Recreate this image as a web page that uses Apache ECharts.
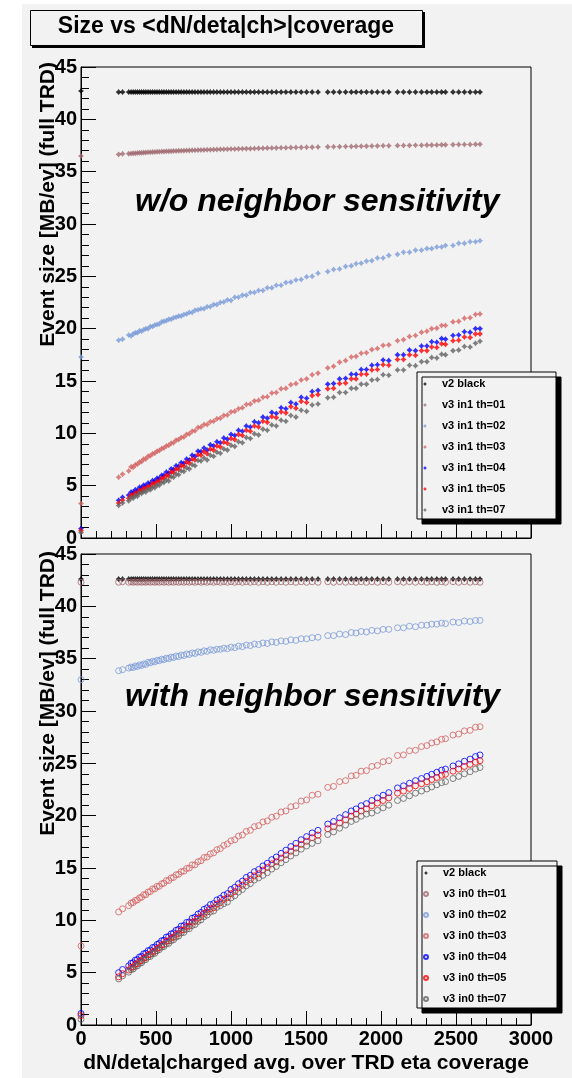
<!DOCTYPE html>
<html><head><meta charset="utf-8">
<script src="https://cdn.jsdelivr.net/npm/echarts@6/dist/echarts.min.js"></script>
<style>html,body{margin:0;padding:0;background:#fff}#c{width:572px;height:1078px}</style>
</head><body><div id="c"></div>
<script>
// shared x values (dN/deta) of the events
const xVals = [0,251,277,318,334,348,362,376,390,404,
418,432,447,462,477,492,507,522,538,553,
569,585,601,617,634,651,668,686,704,722,
741,760,780,800,820,841,862,884,906,929,
952,976,1000,1025,1050,1076,1102,1129,1156,1184,
1213,1242,1272,1302,1334,1366,1399,1433,1468,1504,
1541,1580,1645,1684,1724,1764,1802,1834,1868,1903,
1939,1976,2014,2052,2110,2150,2190,2230,2270,2306,
2338,2372,2404,2430,2480,2518,2556,2594,2630,2660];

// ---- top panel: w/o neighbor sensitivity ----
const topV2 = [42.7,42.6,42.6,42.6,42.6,42.6,42.6,42.6,42.6,42.6,
42.6,42.6,42.6,42.6,42.6,42.6,42.6,42.6,42.6,42.6,
42.6,42.6,42.6,42.6,42.6,42.6,42.6,42.6,42.6,42.6,
42.6,42.6,42.6,42.6,42.6,42.6,42.6,42.6,42.6,42.6,
42.6,42.6,42.6,42.6,42.6,42.6,42.6,42.6,42.6,42.6,
42.6,42.6,42.6,42.6,42.6,42.6,42.6,42.6,42.6,42.6,
42.6,42.6,42.6,42.6,42.6,42.6,42.6,42.6,42.6,42.6,
42.6,42.6,42.6,42.6,42.6,42.6,42.6,42.6,42.6,42.6,
42.6,42.6,42.6,42.6,42.6,42.6,42.6,42.6,42.6,42.6];
const topTh01 = [36.5,36.65,36.7,36.72,36.74,36.75,36.76,36.78,36.8,36.8,
36.82,36.83,36.85,36.86,36.87,36.88,36.9,36.9,36.92,36.93,
36.94,36.95,36.96,36.97,36.98,36.99,37.0,37.01,37.02,37.03,
37.04,37.05,37.06,37.07,37.08,37.09,37.1,37.11,37.12,37.13,
37.14,37.15,37.16,37.17,37.18,37.19,37.2,37.2,37.22,37.23,
37.24,37.25,37.26,37.27,37.28,37.29,37.3,37.31,37.32,37.33,
37.34,37.35,37.37,37.38,37.39,37.4,37.41,37.42,37.43,37.44,
37.45,37.46,37.47,37.48,37.49,37.5,37.51,37.52,37.53,37.54,
37.54,37.55,37.56,37.56,37.58,37.59,37.6,37.6,37.61,37.62];
const topTh02 = [17.3,18.9,19.0,19.4,19.3,19.5,19.6,19.6,19.8,19.75,
19.9,20.0,20.0,20.2,20.2,20.35,20.4,20.45,20.65,20.7,
20.75,20.9,20.9,21.05,21.1,21.2,21.2,21.35,21.4,21.55,
21.55,21.75,21.8,21.9,21.9,22.1,22.1,22.3,22.3,22.5,
22.55,22.75,22.7,23.0,23.0,23.2,23.2,23.45,23.45,23.65,
23.65,23.9,23.9,24.15,24.15,24.4,24.45,24.65,24.7,24.95,
25.0,25.3,25.45,25.65,25.7,25.95,26.0,26.2,26.25,26.45,
26.5,26.75,26.75,27.0,27.1,27.3,27.3,27.5,27.5,27.65,
27.65,27.8,27.8,27.95,27.95,28.15,28.15,28.3,28.3,28.4];
const topTh03 = [3.3,5.8,6.1,6.4,6.8,6.75,7.0,7.05,7.25,7.3,
7.55,7.55,7.8,7.85,8.05,8.1,8.3,8.35,8.55,8.6,
8.8,8.85,9.05,9.1,9.35,9.4,9.6,9.65,9.9,9.95,
10.2,10.25,10.55,10.6,10.85,10.85,11.1,11.15,11.4,11.45,
11.7,11.75,12.05,12.1,12.35,12.45,12.75,12.8,13.1,13.15,
13.45,13.5,13.85,13.9,14.25,14.3,14.65,14.75,15.1,15.2,
15.6,15.75,16.25,16.4,16.8,16.95,17.3,17.35,17.65,17.7,
18.0,18.1,18.4,18.45,18.85,18.95,19.25,19.35,19.65,19.75,
20.0,20.05,20.3,20.3,20.65,20.7,21.0,21.05,21.35,21.4];
const topTh04 = [0.9,3.6,3.9,4.1,4.4,4.35,4.6,4.55,4.85,4.8,
5.05,5.0,5.25,5.2,5.5,5.45,5.7,5.7,6.0,6.0,
6.3,6.2,6.6,6.55,6.9,6.85,7.2,7.15,7.55,7.45,
7.9,7.8,8.3,8.25,8.6,8.4,8.9,8.8,9.2,9.1,
9.55,9.45,9.9,9.8,10.3,10.2,10.7,10.6,11.1,11.0,
11.55,11.45,12.0,11.9,12.45,12.35,12.95,12.8,13.45,13.35,
14.0,14.1,14.7,14.75,15.2,15.25,15.65,15.65,16.1,16.1,
16.5,16.55,17.0,16.95,17.5,17.5,17.95,17.9,18.35,18.35,
18.75,18.7,19.05,19.0,19.35,19.4,19.7,19.65,20.0,20.0];
const topTh05 = [0.7,3.35,3.6,3.8,4.1,4.05,4.3,4.25,4.55,4.5,
4.75,4.7,4.95,4.9,5.2,5.15,5.4,5.4,5.7,5.7,
6.0,5.9,6.3,6.25,6.6,6.55,6.9,6.85,7.25,7.15,
7.55,7.45,7.95,7.9,8.25,8.05,8.5,8.4,8.8,8.7,
9.15,9.05,9.5,9.4,9.9,9.8,10.3,10.2,10.7,10.6,
11.15,11.05,11.6,11.5,12.05,11.95,12.55,12.4,13.05,12.95,
13.6,13.7,14.25,14.3,14.75,14.8,15.2,15.2,15.65,15.65,
16.05,16.1,16.55,16.5,17.05,17.05,17.5,17.45,17.9,17.9,
18.25,18.2,18.55,18.5,18.85,18.9,19.2,19.15,19.5,19.5];
const topTh07 = [0.5,3.1,3.35,3.55,3.85,3.8,4.05,4.0,4.3,4.25,
4.45,4.4,4.65,4.6,4.85,4.8,5.05,5.05,5.3,5.3,
5.55,5.45,5.85,5.8,6.1,6.05,6.4,6.35,6.7,6.6,
7.0,6.9,7.4,7.35,7.65,7.45,7.9,7.8,8.2,8.1,
8.5,8.4,8.85,8.75,9.2,9.1,9.6,9.5,9.95,9.85,
10.4,10.3,10.8,10.7,11.25,11.15,11.7,11.55,12.2,12.1,
12.7,12.8,13.4,13.45,13.9,13.9,14.3,14.3,14.7,14.7,
15.1,15.15,15.6,15.55,16.05,16.05,16.5,16.45,16.85,16.85,
17.25,17.2,17.55,17.5,17.9,17.95,18.3,18.25,18.6,18.8];

// ---- bottom panel: with neighbor sensitivity ----
const botV2 = [42.6,42.6,42.6,42.6,42.6,42.6,42.6,42.6,42.6,42.6,
42.6,42.6,42.6,42.6,42.6,42.6,42.6,42.6,42.6,42.6,
42.6,42.6,42.6,42.6,42.6,42.6,42.6,42.6,42.6,42.6,
42.6,42.6,42.6,42.6,42.6,42.6,42.6,42.6,42.6,42.6,
42.6,42.6,42.6,42.6,42.6,42.6,42.6,42.6,42.6,42.6,
42.6,42.6,42.6,42.6,42.6,42.6,42.6,42.6,42.6,42.6,
42.6,42.6,42.6,42.6,42.6,42.6,42.6,42.6,42.6,42.6,
42.6,42.6,42.6,42.6,42.6,42.6,42.6,42.6,42.6,42.6,
42.6,42.6,42.6,42.6,42.6,42.6,42.6,42.6,42.6,42.6];
const botTh01 = [42.3,42.3,42.35,42.3,42.35,42.3,42.35,42.3,42.35,42.3,
42.35,42.3,42.35,42.3,42.35,42.3,42.35,42.3,42.35,42.3,
42.35,42.3,42.35,42.3,42.35,42.3,42.35,42.3,42.35,42.3,
42.35,42.3,42.35,42.3,42.35,42.3,42.35,42.3,42.35,42.3,
42.35,42.3,42.35,42.3,42.35,42.3,42.35,42.3,42.35,42.3,
42.35,42.3,42.35,42.3,42.35,42.3,42.35,42.3,42.35,42.3,
42.35,42.3,42.35,42.3,42.35,42.3,42.35,42.3,42.35,42.3,
42.35,42.3,42.35,42.3,42.35,42.3,42.35,42.3,42.35,42.3,
42.35,42.3,42.35,42.3,42.35,42.3,42.35,42.3,42.35,42.3];
const botTh02 = [33.0,33.85,33.95,34.1,34.2,34.15,34.3,34.25,34.4,34.35,
34.5,34.45,34.65,34.6,34.75,34.7,34.85,34.8,34.95,34.9,
35.05,35.0,35.15,35.1,35.25,35.2,35.35,35.3,35.45,35.4,
35.55,35.5,35.65,35.6,35.75,35.7,35.85,35.8,35.9,35.9,
36.0,35.95,36.1,36.05,36.2,36.15,36.3,36.25,36.4,36.35,
36.5,36.45,36.6,36.55,36.7,36.65,36.8,36.75,36.9,36.9,
37.0,37.05,37.2,37.2,37.35,37.3,37.5,37.45,37.6,37.55,
37.7,37.65,37.8,37.8,37.95,37.95,38.1,38.05,38.2,38.2,
38.3,38.3,38.4,38.35,38.5,38.45,38.6,38.55,38.65,38.65];
const botTh03 = [7.55,10.8,11.1,11.4,11.65,11.7,11.9,11.95,12.15,12.2,
12.45,12.45,12.7,12.75,13.0,13.0,13.25,13.25,13.5,13.55,
13.8,13.8,14.05,14.1,14.35,14.4,14.65,14.7,14.95,15.0,
15.3,15.3,15.6,15.7,16.0,16.05,16.35,16.45,16.75,16.85,
17.15,17.3,17.6,17.7,18.05,18.15,18.5,18.6,18.95,19.05,
19.4,19.5,19.85,19.95,20.35,20.45,20.85,20.95,21.4,21.5,
21.95,22.05,22.7,22.8,23.25,23.35,23.8,23.85,24.25,24.3,
24.7,24.8,25.15,25.25,25.75,25.8,26.2,26.25,26.6,26.7,
26.95,27.05,27.3,27.35,27.7,27.8,28.1,28.15,28.45,28.5];
const botTh04 = [1.1,5.0,5.3,5.65,5.9,5.95,6.2,6.25,6.5,6.55,
6.8,6.85,7.1,7.15,7.4,7.45,7.7,7.8,8.05,8.1,
8.4,8.45,8.7,8.8,9.05,9.15,9.45,9.5,9.8,9.85,
10.2,10.3,10.6,10.75,11.05,11.2,11.5,11.6,11.95,12.1,
12.4,12.55,12.95,13.15,13.5,13.75,14.1,14.3,14.65,14.85,
15.2,15.45,15.8,16.05,16.4,16.7,17.05,17.35,17.7,18.0,
18.35,18.6,19.2,19.45,19.8,20.1,20.45,20.65,20.95,21.15,
21.45,21.7,21.95,22.2,22.65,22.85,23.1,23.35,23.55,23.75,
23.95,24.15,24.35,24.45,24.75,24.95,25.2,25.4,25.65,25.8];
const botTh05 = [0.9,4.6,4.9,5.25,5.5,5.55,5.8,5.85,6.1,6.15,
6.4,6.45,6.7,6.75,7.0,7.05,7.3,7.4,7.65,7.7,
8.0,8.05,8.3,8.4,8.65,8.75,9.05,9.1,9.4,9.45,
9.8,9.9,10.2,10.35,10.65,10.8,11.1,11.2,11.55,11.7,
12.0,12.15,12.55,12.75,13.1,13.35,13.7,13.9,14.25,14.45,
14.8,15.05,15.4,15.6,15.95,16.25,16.6,16.9,17.25,17.55,
17.9,18.15,18.75,18.95,19.3,19.6,19.95,20.15,20.45,20.65,
20.95,21.2,21.45,21.7,22.15,22.35,22.6,22.85,23.05,23.25,
23.45,23.65,23.85,23.95,24.25,24.45,24.7,24.9,25.1,25.25];
const botTh07 = [0.55,4.4,4.7,5.05,5.3,5.35,5.6,5.65,5.9,5.95,
6.2,6.25,6.5,6.55,6.8,6.85,7.1,7.2,7.45,7.5,
7.75,7.8,8.05,8.15,8.4,8.5,8.8,8.85,9.15,9.2,
9.5,9.6,9.9,10.05,10.35,10.5,10.8,10.9,11.25,11.4,
11.6,11.75,12.15,12.35,12.7,12.95,13.3,13.5,13.85,14.05,
14.3,14.55,14.9,15.15,15.5,15.8,16.15,16.45,16.8,17.1,
17.35,17.6,18.2,18.45,18.8,19.1,19.45,19.65,19.95,20.15,
20.25,20.5,20.75,21.0,21.45,21.65,21.9,22.15,22.35,22.55,
22.75,22.95,23.15,23.25,23.55,23.75,24.0,24.2,24.45,24.6];

const namesTop = ['v2 black','v3 in1 th=01','v3 in1 th=02','v3 in1 th=03','v3 in1 th=04','v3 in1 th=05','v3 in1 th=07'];
const namesBot = ['v2 black','v3 in0 th=01','v3 in0 th=02','v3 in0 th=03','v3 in0 th=04','v3 in0 th=05','v3 in0 th=07'];
const colors = ['#000000','#a06a72','#7b9bd8','#d46262','#0000ff','#ff0000','#626262'];
const topData = [topV2, topTh01, topTh02, topTh03, topTh04, topTh05, topTh07];
const botData = [botV2, botTh01, botTh02, botTh03, botTh04, botTh05, botTh07];
const yTicks = {min: 0, max: 45, interval: 5};
const xTicks = {min: 0, max: 3000, interval: 500};

const FONT = '"Liberation Sans", Arial, sans-serif';
const STAR = 'path://M0,-3L1.3,-1.3L3,0L1.3,1.3L0,3L-1.3,1.3L-3,0L-1.3,-1.3Z';

function pts(ys) { return xVals.map((x, i) => [x, ys[i]]); }

const series = [];
topData.forEach((ys, k) => {
  series.push({
    type: 'scatter', name: namesTop[k], xAxisIndex: 0, yAxisIndex: 0,
    data: pts(ys), symbol: STAR, symbolSize: 6, silent: true,
    itemStyle: {color: colors[k]}
  });
});
botData.forEach((ys, k) => {
  const s = {
    type: 'scatter', name: namesBot[k], xAxisIndex: 1, yAxisIndex: 1,
    data: pts(ys), silent: true
  };
  if (k === 0) {
    s.symbol = STAR; s.symbolSize = 6; s.itemStyle = {color: colors[k]};
  } else {
    s.symbol = 'circle'; s.symbolSize = 6;
    s.itemStyle = {color: 'rgba(0,0,0,0)', borderColor: colors[k], borderWidth: 1};
  }
  series.push(s);
});

function xAxis(grid, showLabels) {
  return {
    gridIndex: grid, type: 'value', min: xTicks.min, max: xTicks.max, interval: xTicks.interval,
    axisLine: {show: true, onZero: false, lineStyle: {color: '#000', width: 1}},
    axisTick: {show: true, inside: true, length: 14, lineStyle: {color: '#000'}},
    minorTick: {show: true, splitNumber: 5, length: 7, lineStyle: {color: '#000'}},
    splitLine: {show: false}, minorSplitLine: {show: false},
    axisLabel: {show: showLabels, color: '#000', fontFamily: FONT, fontWeight: 'bold', fontSize: 20, margin: 4,
      formatter: v => String(v)}
  };
}
function yAxis(grid) {
  return {
    gridIndex: grid, type: 'value', min: yTicks.min, max: yTicks.max, interval: yTicks.interval,
    axisLine: {show: true, onZero: false, lineStyle: {color: '#000', width: 1}},
    axisTick: {show: true, inside: true, length: 15, lineStyle: {color: '#000'}},
    minorTick: {show: true, splitNumber: 5, length: 8, lineStyle: {color: '#000'}},
    splitLine: {show: false}, minorSplitLine: {show: false},
    axisLabel: {color: '#000', fontFamily: FONT, fontWeight: 'bold', fontSize: 20, margin: 4,
      formatter: v => String(v)}
  };
}
function legend(names, top) {
  return {
    data: names, orient: 'vertical', left: 417, top: top,
    padding: [5, 14, 2, 6], itemGap: 7, itemWidth: 24, itemHeight: 4,
    backgroundColor: '#f2f2f2', borderColor: '#000', borderWidth: 1,
    shadowColor: '#000', shadowBlur: 0, shadowOffsetX: 5, shadowOffsetY: 5,
    selectedMode: false,
    textStyle: {color: '#000', fontFamily: FONT, fontWeight: 'bold', fontSize: 11, lineHeight: 14, width: 100}
  };
}

const chart = echarts.init(document.getElementById('c'), null, {renderer: 'canvas'});
chart.setOption({
  animation: false,
  backgroundColor: '#f2f2f2',
  grid: [
    {left: 81, top: 67, width: 450, height: 471, show: true, borderColor: '#000', borderWidth: 1, backgroundColor: 'transparent'},
    {left: 81, top: 554, width: 450, height: 471, show: true, borderColor: '#000', borderWidth: 1, backgroundColor: 'transparent'}
  ],
  xAxis: [xAxis(0, false), xAxis(1, true)],
  yAxis: [yAxis(0), yAxis(1)],
  legend: [legend(namesTop, 372), legend(namesBot, 861)],
  series: series,
  graphic: [
    {type: 'rect', shape: {x: 0, y: 0, width: 22, height: 1078}, style: {fill: '#fff'}, silent: true},
    {type: 'rect', shape: {x: 0, y: 0, width: 572, height: 4}, style: {fill: '#fff'}, silent: true},
    {type: 'rect', shape: {x: 32, y: 12, width: 393, height: 36}, style: {fill: '#000'}, silent: true},
    {type: 'rect', shape: {x: 30.5, y: 10.5, width: 392, height: 35}, style: {fill: '#f2f2f2', stroke: '#000', lineWidth: 1}, silent: true},
    {type: 'text', x: 226, y: 27, silent: true,
     style: {text: 'Size vs <dN/deta|ch>|coverage', fill: '#000', font: 'bold 23px ' + FONT, align: 'center', verticalAlign: 'middle'}},
    {type: 'text', x: 135, y: 202, silent: true,
     style: {text: 'w/o neighbor sensitivity', fill: '#000', font: 'italic bold 32px ' + FONT, align: 'left', verticalAlign: 'middle'}},
    {type: 'text', x: 125, y: 697, silent: true,
     style: {text: 'with neighbor sensitivity', fill: '#000', font: 'italic bold 32px ' + FONT, align: 'left', verticalAlign: 'middle'}},
    {type: 'text', x: 48, y: 62, rotation: Math.PI / 2, silent: true,
     style: {text: 'Event size [MB/ev] (full TRD)', fill: '#000', font: 'bold 21px ' + FONT, align: 'right', verticalAlign: 'middle'}},
    {type: 'text', x: 48, y: 551, rotation: Math.PI / 2, silent: true,
     style: {text: 'Event size [MB/ev] (full TRD)', fill: '#000', font: 'bold 21px ' + FONT, align: 'right', verticalAlign: 'middle'}},
    {type: 'text', x: 529, y: 1063, silent: true,
     style: {text: 'dN/deta|charged avg. over TRD eta coverage', fill: '#000', font: 'bold 21px ' + FONT, align: 'right', verticalAlign: 'middle'}}
  ]
});
</script></body></html>
